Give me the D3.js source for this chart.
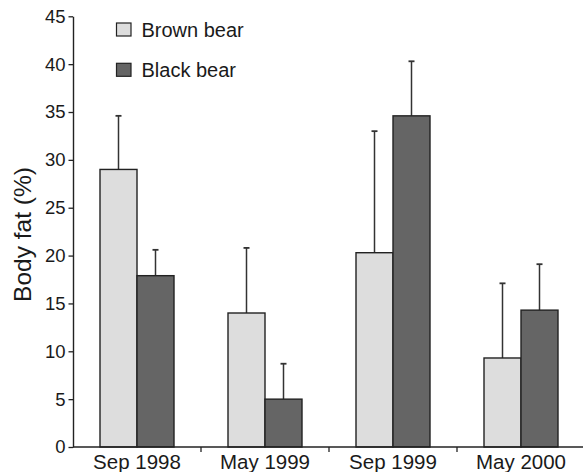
<!DOCTYPE html>
<html>
<head>
<meta charset="utf-8">
<script src="https://cdn.jsdelivr.net/npm/d3@7"></script>
<style>
  html, body { margin: 0; padding: 0; background: #fff; }
  svg { display: block; font-family: "Liberation Sans", Arial, Helvetica, sans-serif; }
</style>
</head>
<body>
<svg id="chart" width="583" height="472"></svg>
<script>
// Sampling periods
const categories = ["Sep 1998", "May 1999", "Sep 1999", "May 2000"];
// Mean body fat (%) and error (SD, drawn upward)
const brownMean = [29.0, 14.0, 20.3, 9.3];
const brownErr  = [5.6, 6.8, 12.7, 7.8];
const blackMean = [17.9, 5.0, 34.6, 14.3];
const blackErr  = [2.7, 3.7, 5.7, 4.8];
const seriesNames = ["Brown bear", "Black bear"];
const yTicks = [0, 5, 10, 15, 20, 25, 30, 35, 40, 45];

const series = [
  { name: seriesNames[0], mean: brownMean, err: brownErr, fill: "#dddddd" },
  { name: seriesNames[1], mean: blackMean, err: blackErr, fill: "#656565" }
];

const svg = d3.select("#chart");
const plotLeft = 73, plotRight = 585, plotTop = 16.3, plotBottom = 447;

const x = d3.scaleBand().domain(categories).range([plotLeft, plotRight]).padding(0);
const xs = d3.scaleBand().domain(seriesNames).range([0, 74]).padding(0);
const y = d3.scaleLinear().domain([0, 45]).range([plotBottom, plotTop]);

const stroke = "#222";

// bars and error bars
series.forEach(s => {
  const g = svg.append("g");
  categories.forEach((c, i) => {
    const x0 = x(c) + x.bandwidth() / 2 - 37 + xs(s.name);
    const w = xs.bandwidth();
    const cx = x0 + w / 2;
    g.append("line")
      .attr("x1", cx).attr("x2", cx)
      .attr("y1", y(s.mean[i])).attr("y2", y(s.mean[i] + s.err[i]))
      .attr("stroke", "#333").attr("stroke-width", 1.5);
    g.append("line")
      .attr("x1", cx - 3).attr("x2", cx + 3)
      .attr("y1", y(s.mean[i] + s.err[i])).attr("y2", y(s.mean[i] + s.err[i]))
      .attr("stroke", "#333").attr("stroke-width", 1.8);
    g.append("rect")
      .attr("x", x0).attr("y", y(s.mean[i]))
      .attr("width", w).attr("height", y(0) - y(s.mean[i]))
      .attr("fill", s.fill).attr("stroke", stroke).attr("stroke-width", 1.4);
  });
});

// y axis
const yAxis = svg.append("g")
  .attr("transform", `translate(${plotLeft},0)`)
  .call(d3.axisLeft(y).tickValues(yTicks).tickSize(4.5).tickPadding(3).tickSizeOuter(0));
yAxis.select(".domain").attr("stroke", stroke).attr("stroke-width", 1.4);
yAxis.selectAll(".tick line").attr("stroke", stroke).attr("stroke-width", 1.3);
yAxis.selectAll(".tick text")
  .attr("font-size", 18.5).attr("fill", "#1a1a1a")
  .attr("font-family", "'Liberation Sans', Arial, sans-serif");

// x axis: baseline with boundary ticks between periods
const xAxis = svg.append("g");
xAxis.append("line")
  .attr("x1", plotLeft).attr("x2", 583)
  .attr("y1", plotBottom).attr("y2", plotBottom)
  .attr("stroke", stroke).attr("stroke-width", 1.4);
xAxis.selectAll("line.bound")
  .data(categories.slice(1))
  .enter().append("line")
  .attr("class", "bound")
  .attr("x1", d => x(d)).attr("x2", d => x(d))
  .attr("y1", plotBottom).attr("y2", plotBottom + 5)
  .attr("stroke", stroke).attr("stroke-width", 1.3);
xAxis.selectAll("text")
  .data(categories)
  .enter().append("text")
  .attr("x", d => x(d) + x.bandwidth() / 2)
  .attr("y", 468.5)
  .attr("text-anchor", "middle")
  .attr("font-size", 20.5)
  .attr("fill", "#1a1a1a")
  .text(d => d);

// y axis title
svg.append("text")
  .attr("transform", "translate(30.5,234.5) rotate(-90)")
  .attr("text-anchor", "middle")
  .attr("font-size", 24.5)
  .attr("fill", "#1a1a1a")
  .text("Body fat (%)");

// legend
const legend = svg.append("g");
series.forEach((s, i) => {
  const ly = 23 + i * 40.3;
  legend.append("rect")
    .attr("x", 116.5).attr("y", ly)
    .attr("width", 14.5).attr("height", 13)
    .attr("fill", s.fill).attr("stroke", stroke).attr("stroke-width", 1.2);
  legend.append("text")
    .attr("x", 141.5).attr("y", ly + 13.5)
    .attr("font-size", 20)
    .attr("fill", "#1a1a1a")
    .text(s.name);
});
</script>
</body>
</html>
